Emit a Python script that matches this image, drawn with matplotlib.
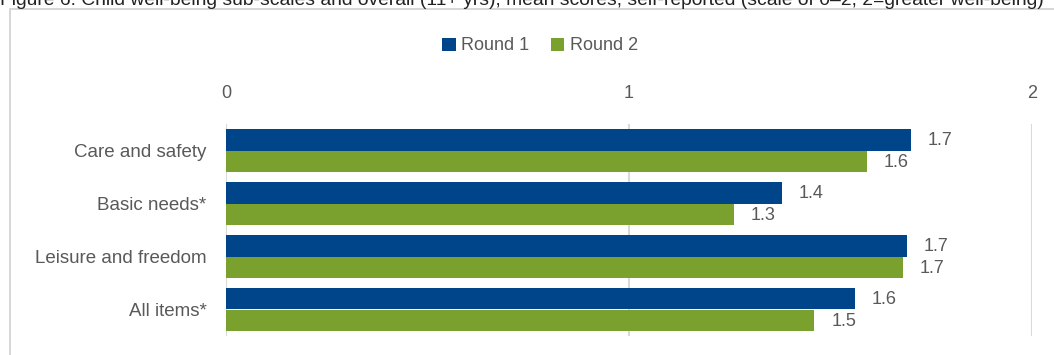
import matplotlib
matplotlib.use("Agg")
import matplotlib.pyplot as plt
from matplotlib.patches import Rectangle

categories = ["Care and safety", "Basic needs*", "Leisure and freedom", "All items*"]
round1 = [1.70, 1.38, 1.69, 1.56]
round2 = [1.59, 1.26, 1.68, 1.46]
series_names = ["Round 1", "Round 2"]
title = ("Figure 6: Child well-being sub-scales and overall (11+ yrs), mean scores, "
         "self-reported (scale of 0\u20132, 2=greater well-being)")

BLUE = "#004589"
GREEN = "#7aa02e"
TXT = "#595959"
W, H = 1054, 355

plt.rcParams["font.family"] = ["Liberation Sans", "DejaVu Sans"]

fig = plt.figure(figsize=(W / 100, H / 100), dpi=100)

# outer chart frame (clipped on right/bottom like the source)
fig.patches.append(Rectangle((10 / W, -0.1), 1.2, 1 - 9 / H + 0.1,
                             transform=fig.transFigure, fill=False,
                             edgecolor="#d0d0d0", linewidth=1.2))
# title sits half above the image edge, as in the source crop
fig.text(0.0, 1 - 5 / H, title, fontsize=13.9, color="#222222",
         ha="left", va="baseline")

ax = fig.add_axes([226 / W, 1 - 336 / H, (1032 - 226) / W, (336 - 124) / H])
y = list(range(len(categories)))
h = 0.4
b1 = ax.barh([v - h / 2 for v in y], round1, height=h, color=BLUE, label=series_names[0])
b2 = ax.barh([v + h / 2 for v in y], round2, height=h, color=GREEN, label=series_names[1])

for bars, vals in ((b1, round1), (b2, round2)):
    for bar, v in zip(bars, vals):
        ax.text(v + 0.042, bar.get_y() + bar.get_height() / 2 + 0.02, f"{v:.1f}",
                va="center", ha="left", fontsize=13, color=TXT)

ax.set_xlim(0, 2)
ax.set_ylim(3.5, -0.5)
ax.set_yticks(y)
ax.set_yticklabels(categories, fontsize=13.5, color=TXT)
ax.set_xticks([0, 1, 2])
ax.set_xticklabels(["0", "1", "2"], fontsize=13, color=TXT)
ax.xaxis.tick_top()
ax.tick_params(axis="x", length=0, pad=16)
ax.tick_params(axis="y", length=0, pad=14)
for s in ax.spines.values():
    s.set_visible(False)
ax.grid(axis="x", color="#d9d9d9", linewidth=1.5)
ax.set_axisbelow(True)

fig.legend(handles=[b1, b2], labels=series_names, loc="center",
           bbox_to_anchor=(540 / W, 1 - 46 / H), ncol=2, frameon=False,
           fontsize=13, handlelength=0.75, handleheight=0.75, handletextpad=0.3,
           columnspacing=1.2, labelcolor=TXT)

fig.savefig("out.png", dpi=100)
